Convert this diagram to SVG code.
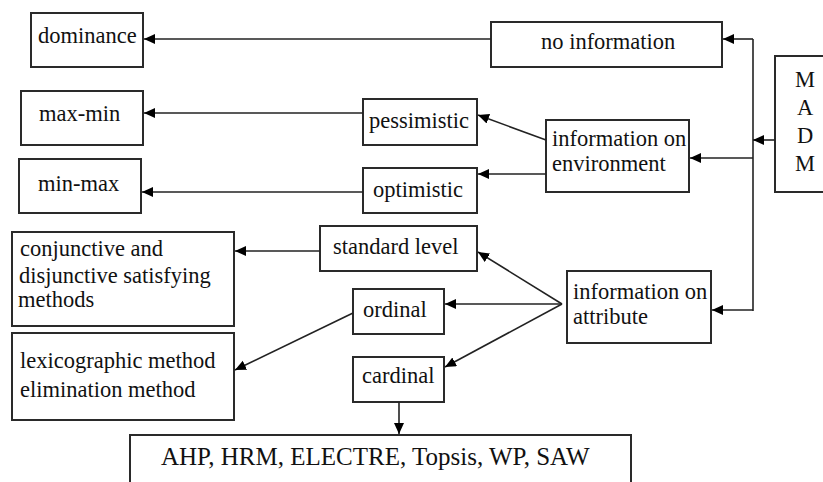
<svg xmlns="http://www.w3.org/2000/svg" width="823" height="482" viewBox="0 0 823 482">
<style>
  rect { fill: #fff; stroke: #2a2a2a; stroke-width: 2; }
  text { font-size: 22.5px; fill: #111; }
  .big { font-size: 25px; }
  .mid { text-anchor: middle; }
  .conn line { stroke: #222; stroke-width: 1.6; fill: none; marker-end: url(#arr); }
  .conn .plain { marker-end: none; }
</style>
<defs>
  <marker id="arr" markerUnits="userSpaceOnUse" markerWidth="12" markerHeight="11" refX="11" refY="5" orient="auto">
    <path d="M0,0 L11,5 L0,10 z" fill="#000"/>
  </marker>
</defs>
<rect x="0" y="0" width="823" height="482" style="fill:#fff;stroke:none"/>

<g id="nodes" font-family="'Liberation Serif', serif">
<g id="n-dominance"><rect x="31" y="13" width="112" height="54"/><text x="38" y="43">dominance</text></g>
<g id="n-noinfo"><rect x="491" y="22" width="231" height="45"/><text x="541" y="49">no information</text></g>
<g id="n-maxmin"><rect x="21" y="91" width="122" height="54"/><text x="39" y="121">max-min</text></g>
<g id="n-minmax"><rect x="19" y="159" width="122" height="54"/><text x="38" y="191">min-max</text></g>
<g id="n-pess"><rect x="363" y="99" width="114" height="46"/><text x="369" y="128">pessimistic</text></g>
<g id="n-opt"><rect x="363" y="168" width="114" height="45"/><text x="373" y="197">optimistic</text></g>
<g id="n-env"><rect x="546" y="120" width="143" height="72"/><text x="552" y="146">information on</text><text x="552" y="171">environment</text></g>
<g id="n-madm"><rect x="775" y="56" width="60" height="136"/>
  <text class="mid" x="805" y="87">M</text><text class="mid" x="805" y="115">A</text><text class="mid" x="805" y="143">D</text><text class="mid" x="805" y="171">M</text></g>
<g id="n-conj"><rect x="12" y="232" width="222" height="94"/><text x="20" y="256">conjunctive and</text><text x="19" y="283">disjunctive satisfying</text><text x="18" y="307">methods</text></g>
<g id="n-std"><rect x="320" y="226" width="157" height="45"/><text x="333" y="254">standard level</text></g>
<g id="n-ord"><rect x="353" y="289" width="91" height="45"/><text x="363" y="317">ordinal</text></g>
<g id="n-card"><rect x="353" y="357" width="91" height="45"/><text x="362" y="383">cardinal</text></g>
<g id="n-lex"><rect x="12" y="333" width="222" height="87"/><text x="20" y="368">lexicographic method</text><text x="20" y="397">elimination method</text></g>
<g id="n-attr"><rect x="567" y="271" width="144" height="72"/><text x="573" y="299">information on</text><text x="573" y="324">attribute</text></g>
<g id="n-ahp"><rect x="130" y="435" width="501" height="60"/><text class="big" x="161" y="465">AHP, HRM, ELECTRE, Topsis, WP, SAW</text></g>
</g>

<g id="connectors" class="conn">
  <line class="plain" x1="753" y1="39" x2="753" y2="311"/>
  <line x1="753" y1="39" x2="723" y2="39"/>
  <line x1="775" y1="140" x2="753" y2="140"/>
  <line x1="753" y1="158" x2="690" y2="158"/>
  <line x1="753" y1="310" x2="712" y2="310"/>
  <line x1="491" y1="39" x2="144" y2="39"/>
  <line x1="363" y1="113" x2="144" y2="113"/>
  <line x1="363" y1="192" x2="142" y2="192"/>
  <line x1="546" y1="140" x2="478" y2="115"/>
  <line x1="546" y1="174" x2="478" y2="174"/>
  <line x1="320" y1="251" x2="235" y2="251"/>
  <line x1="353" y1="313" x2="235" y2="370"/>
  <line x1="399" y1="402" x2="399" y2="434"/>
  <line x1="562" y1="304" x2="478" y2="252"/>
  <line x1="562" y1="304" x2="445" y2="304"/>
  <line x1="562" y1="304" x2="445" y2="367"/>
</g>
</svg>
